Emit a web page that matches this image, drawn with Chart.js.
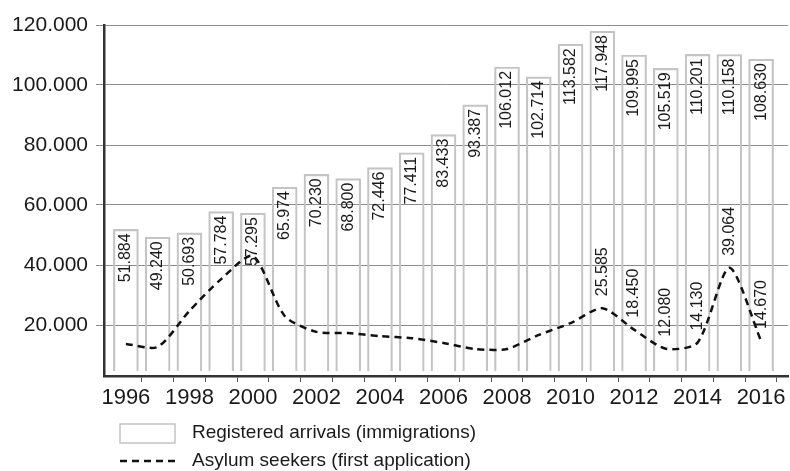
<!DOCTYPE html>
<html>
<head>
<meta charset="utf-8">
<title>Registered arrivals and asylum seekers 1996-2016</title>
<script src="https://cdn.jsdelivr.net/npm/chart.js@4.4.1/dist/chart.umd.min.js"></script>
<style>
  html, body { margin: 0; padding: 0; background: #fff; }
  #wrap { width: 790px; height: 471px; position: relative; }
</style>
</head>
<body>
<div id="wrap"><canvas id="arrivalsChart"></canvas></div>
<script>
// Data
const years = [1996, 1997, 1998, 1999, 2000, 2001, 2002, 2003, 2004, 2005, 2006,
               2007, 2008, 2009, 2010, 2011, 2012, 2013, 2014, 2015, 2016];
const arrivals = [51884, 49240, 50693, 57784, 57295, 65974, 70230, 68800, 72446, 77411, 83433,
                  93387, 106012, 102714, 113582, 117948, 109995, 105519, 110201, 110158, 108630];
// unlabelled years estimated from the curve
const asylum = [13700, 12700, 24700, 35300, 43000, 23000, 17700, 17300, 16300, 15600, 14000,
                12000, 12000, 16700, 20600, 25585, 18450, 12080, 14130, 39064, 14670];
const asylumLabelYears = [2011, 2012, 2013, 2014, 2015, 2016];
const yTicks = [20000, 40000, 60000, 80000, 100000, 120000];
const xTickLabels = [1996, 1998, 2000, 2002, 2004, 2006, 2008, 2010, 2012, 2014, 2016];
const seriesNames = ['Registered arrivals (immigrations)', 'Asylum seekers (first application)'];

const FONT = '"Liberation Sans", Arial, Helvetica, sans-serif';

// 120000 -> "120.000"
function dotted(v) {
    return String(Math.round(v)).replace(/\B(?=(\d{3})+(?!\d))/g, '.');
}

// Rotated value labels inside the bars and above the asylum line
const valueLabels = {
    id: 'valueLabels',
    beforeDatasetsDraw(chart) {
        const ctx = chart.ctx;
        const barMeta = chart.getDatasetMeta(0);
        const lineMeta = chart.getDatasetMeta(1);
        ctx.save();
        ctx.font = '16px ' + FONT;
        ctx.fillStyle = '#1a1a1a';
        ctx.textBaseline = 'middle';

        barMeta.data.forEach((bar, i) => {
            ctx.save();
            ctx.translate(bar.x, bar.y + 4);
            ctx.rotate(-Math.PI / 2);
            ctx.textAlign = 'right';
            ctx.fillText(dotted(arrivals[i]), 0, 0);
            ctx.restore();
        });

        lineMeta.data.forEach((pt, i) => {
            if (!asylumLabelYears.includes(years[i])) return;
            ctx.save();
            ctx.translate(pt.x, pt.y - 12);
            ctx.rotate(-Math.PI / 2);
            ctx.textAlign = 'left';
            ctx.fillText(dotted(asylum[i]), 0, 0);
            ctx.restore();
        });
        ctx.restore();
    }
};

// Two-row legend under the axis, bottom left
const bottomLegend = {
    id: 'bottomLegend',
    afterDraw(chart) {
        const ctx = chart.ctx;
        const area = chart.chartArea;
        const bars = chart.data.datasets[0];
        const line = chart.data.datasets[1];
        const x = area.left + 16;
        const y1 = area.bottom + 57;
        const y2 = area.bottom + 85;
        ctx.save();
        ctx.fillStyle = '#fff';
        ctx.strokeStyle = bars.borderColor;
        ctx.lineWidth = 1.5;
        ctx.fillRect(x, y1 - 9, 55, 19);
        ctx.strokeRect(x, y1 - 9, 55, 19);

        ctx.strokeStyle = line.borderColor;
        ctx.lineWidth = line.borderWidth;
        ctx.setLineDash(line.borderDash);
        ctx.beginPath();
        ctx.moveTo(x, y2);
        ctx.lineTo(x + 55, y2);
        ctx.stroke();
        ctx.setLineDash([]);

        ctx.font = '19px ' + FONT;
        ctx.fillStyle = '#1a1a1a';
        ctx.textBaseline = 'middle';
        ctx.fillText(bars.label, x + 72, y1);
        ctx.fillText(line.label, x + 72, y2);
        ctx.restore();
    }
};

document.addEventListener('DOMContentLoaded', () => {
    const ctx = document.getElementById('arrivalsChart').getContext('2d');
    new Chart(ctx, {
        type: 'bar',
        data: {
            datasets: [{
                type: 'bar',
                label: seriesNames[0],
                data: years.map((y, i) => ({ x: y, y: arrivals[i] })),
                base: 4700,
                backgroundColor: 'rgba(255,255,255,0)',
                borderColor: '#c4c4c4',
                borderWidth: 1.5,
                barThickness: 25,
                order: 1
            }, {
                type: 'line',
                label: seriesNames[1],
                data: years.map((y, i) => ({ x: y, y: asylum[i] })),
                borderColor: '#111',
                borderWidth: 2.5,
                borderDash: [7, 5],
                pointRadius: 0,
                tension: 0.25,
                fill: false,
                order: 0
            }]
        },
        options: {
            responsive: true,
            maintainAspectRatio: false,
            animation: false,
            layout: { padding: { top: 25, right: 2, bottom: 55, left: 0 } },
            plugins: {
                legend: { display: false },
                tooltip: { enabled: false }
            },
            scales: {
                x: {
                    type: 'linear',
                    offset: false,
                    min: 1995.311,
                    max: 2016.847,
                    afterBuildTicks: scale => {
                        const ticks = [];
                        years.forEach(y => {
                            ticks.push({ value: y });
                            ticks.push({ value: y + 0.5 });
                        });
                        scale.ticks = ticks;
                    },
                    afterFit: scale => { scale.height = 40; },
                    ticks: {
                        autoSkip: false,
                        maxRotation: 0,
                        padding: 3,
                        color: '#1a1a1a',
                        font: { family: FONT, size: 22 },
                        callback: value => xTickLabels.includes(value) ? String(value) : ''
                    },
                    grid: {
                        offset: false,
                        drawOnChartArea: false,
                        tickLength: 6,
                        tickWidth: 1,
                        tickColor: c => (c.tick && !Number.isInteger(c.tick.value)) ? '#555' : 'rgba(0,0,0,0)'
                    },
                    border: { display: true, color: '#333', width: 2.5 }
                },
                y: {
                    min: 3000,
                    max: 120000,
                    afterBuildTicks: scale => {
                        scale.ticks = yTicks.map(v => ({ value: v }));
                    },
                    afterFit: scale => { scale.width = 104; },
                    ticks: {
                        padding: 8,
                        color: '#1a1a1a',
                        font: { family: FONT, size: 21 },
                        callback: value => dotted(value)
                    },
                    grid: {
                        color: '#8c8c8c',
                        lineWidth: 1,
                        tickLength: 8
                    },
                    border: { display: true, color: '#333', width: 2.5 }
                }
            }
        },
        plugins: [valueLabels, bottomLegend]
    });
});
</script>
</body>
</html>
